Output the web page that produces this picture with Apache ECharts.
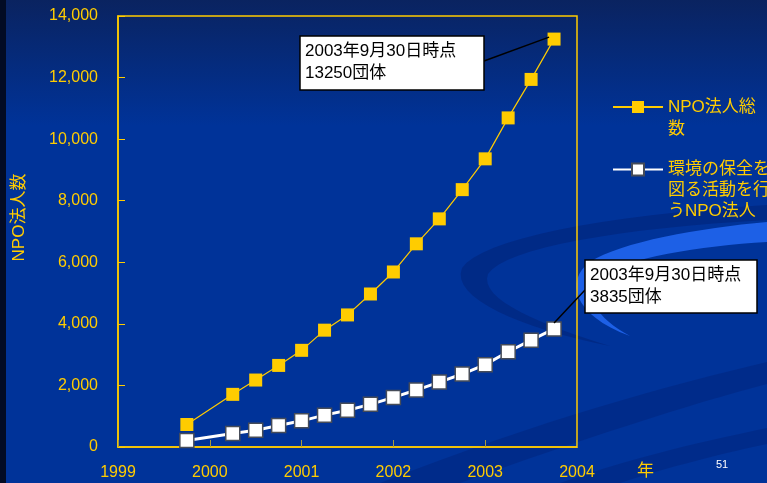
<!DOCTYPE html>
<html><head><meta charset="utf-8">
<script src="https://cdn.jsdelivr.net/npm/echarts@6/dist/echarts.min.js"></script>
<style>html,body{margin:0;padding:0;background:#003399}#c{width:767px;height:483px}</style>
</head><body><div id="c"></div>
<script>
const dates = [1999.75, 2000.25, 2000.5, 2000.75, 2001.0, 2001.25, 2001.5, 2001.75, 2002.0, 2002.25, 2002.5, 2002.75, 2003.0, 2003.25, 2003.5, 2003.75];
const totalNPO = [730, 1710, 2175, 2650, 3140, 3795, 4290, 4970, 5685, 6600, 7410, 8360, 9360, 10690, 11940, 13250];
const envNPO = [210, 440, 545, 700, 850, 1035, 1195, 1385, 1610, 1850, 2110, 2370, 2675, 3095, 3470, 3835];
const yearTicks = [1999, 2000, 2001, 2002, 2003, 2004];
const valueTicks = [0, 2000, 4000, 6000, 8000, 10000, 12000, 14000];
const seriesNames = ['NPO法人総数', '環境の保全を図る活動を行うNPO法人'];
const legendLabels = ['NPO法人総\n数', '環境の保全を\n図る活動を行\nうNPO法人'];
const callouts = ['2003年9月30日時点\n13250団体', '2003年9月30日時点\n3835団体'];
const yAxisName = 'NPO法人数';
const xAxisName = '年';
const pageNo = '51';

const FONT = '"Liberation Sans", "Noto Sans CJK JP", sans-serif';
const YEL = '#ffcc00';
const chart = echarts.init(document.getElementById('c'), null, {renderer: 'canvas'});

// sample a closed shape made of cubic bezier segments into polygon points (decoration only)
function bez(start, segs) {
  const pts = [start.slice()];
  let p0 = start;
  segs.forEach(s => {
    const [c1, c2, p3] = s;
    for (let t = 1; t <= 16; t++) {
      const u = t / 16, v = 1 - u;
      pts.push([
        v*v*v*p0[0] + 3*v*v*u*c1[0] + 3*v*u*u*c2[0] + u*u*u*p3[0],
        v*v*v*p0[1] + 3*v*v*u*c1[1] + 3*v*u*u*c2[1] + u*u*u*p3[1]
      ]);
    }
    p0 = p3;
  });
  return pts;
}

// legend text: prepend blank lines so the first text line sits level with the legend icon
function legendText(label) {
  const n = label.split('\n').length;
  return ' \n'.repeat(n - 1) + label;
}

const decor = [
  {id: 'strip', type: 'rect', z: -5, shape: {x: 0, y: 0, width: 6, height: 483}, style: {fill: '#020b24'}},
  {id: 'd1', type: 'polygon', z: -5, shape: {points: bez([767, 205], [
    [[600, 215], [480, 240], [462, 268]], [[450, 298], [520, 328], [610, 346]],
    [[545, 326], [478, 300], [488, 274]], [[505, 248], [620, 228], [767, 220]]])},
    style: {fill: 'rgba(0,25,100,0.35)'}},
  {id: 'd2', type: 'polygon', z: -5, shape: {points: bez([767, 222], [
    [[700, 228], [620, 242], [590, 262]], [[565, 280], [572, 315], [630, 336]],
    [[596, 318], [584, 296], [600, 276]], [[625, 258], [700, 246], [767, 242]]])},
    style: {fill: '#1d60e6'}},
  {id: 'd3', type: 'polygon', z: -5, shape: {points: bez([380, 483], [
    [[540, 420], [670, 385], [767, 362]], [[767, 370], [767, 378], [767, 384]],
    [[690, 404], [580, 440], [460, 483]]])},
    style: {fill: 'rgba(0,25,100,0.28)'}},
  {id: 'd4', type: 'polygon', z: -5, shape: {points: bez([560, 483], [
    [[640, 455], [710, 440], [767, 428]], [[767, 433], [767, 439], [767, 444]],
    [[710, 456], [660, 470], [620, 483]]])},
    style: {fill: 'rgba(0,25,100,0.28)'}}
];

const boxes = [
  {x: 300, y: 36, w: 184, h: 54, ax: 484, ay: 61},
  {x: 585, y: 260, w: 172, h: 53, ax: 585, ay: 290}
];

function calloutGraphics() {
  const pts = [
    chart.convertToPixel({gridIndex: 0}, [dates[dates.length - 1], totalNPO[totalNPO.length - 1]]),
    chart.convertToPixel({gridIndex: 0}, [dates[dates.length - 1], envNPO[envNPO.length - 1]])
  ];
  const out = [];
  boxes.forEach((b, i) => {
    const p = pts[i];
    const tx = i === 0 ? p[0] - 5 : p[0];
    const ty = i === 0 ? p[1] - 2 : p[1] - 6;
    out.push({id: 'ln' + i, type: 'line', z: 10, shape: {x1: b.ax, y1: b.ay, x2: tx, y2: ty}, style: {stroke: '#000', lineWidth: 1.5}});
    out.push({id: 'bx' + i, type: 'rect', z: 10, shape: {x: b.x, y: b.y, width: b.w, height: b.h}, style: {fill: '#fff', stroke: '#000', lineWidth: 1.5}});
    out.push({id: 'tx' + i, type: 'text', z: 11, style: {x: b.x + 5, y: b.y + 4, text: callouts[i], fill: '#000', fontSize: 17, fontFamily: FONT, lineHeight: 22}});
  });
  out.push({id: 'pg', type: 'text', z: 11, style: {x: 716, y: 459, text: pageNo, fill: '#ffffff', fontSize: 11, fontFamily: FONT}});
  out.push({id: 'xname', type: 'text', z: 11, style: {x: 637, y: 463, text: xAxisName, fill: YEL, fontSize: 17, fontFamily: FONT}});
  return out;
}

const option = {
  animation: false,
  backgroundColor: {type: 'linear', x: 0, y: 0, x2: 0, y2: 1, colorStops: [
    {offset: 0, color: '#0a2360'}, {offset: 0.26, color: '#003399'}, {offset: 1, color: '#003399'}]},
  textStyle: {fontFamily: FONT},
  grid: {left: 118, right: 190, top: 16, bottom: 36, show: true, borderColor: YEL, borderWidth: 1.5, backgroundColor: 'transparent'},
  xAxis: {
    type: 'value', min: yearTicks[0], max: yearTicks[yearTicks.length - 1], interval: 1,
    axisLine: {lineStyle: {color: YEL, width: 1.5}},
    axisTick: {inside: true, length: 7, lineStyle: {color: '#a89c3c'}},
    splitLine: {show: false},
    axisLabel: {color: YEL, fontSize: 16, margin: 18, fontFamily: FONT, formatter: v => String(v)}
  },
  yAxis: {
    type: 'value', min: valueTicks[0], max: valueTicks[valueTicks.length - 1], interval: 2000,
    name: yAxisName, nameLocation: 'middle', nameGap: 90, nameRotate: 90,
    nameTextStyle: {color: YEL, fontSize: 17, fontFamily: FONT, padding: [0, 0, 0, 28]},
    axisLine: {lineStyle: {color: YEL, width: 1.5}},
    axisTick: {inside: true, length: 7, lineStyle: {color: YEL}},
    splitLine: {show: false},
    axisLabel: {color: YEL, fontSize: 16, margin: 20, fontFamily: FONT}
  },
  legend: [
    {data: [seriesNames[0]], left: 612, top: 74, padding: 0,
     itemWidth: 50, itemHeight: 15, itemGap: 5, selectedMode: false,
     formatter: () => legendText(legendLabels[0]),
     textStyle: {color: YEL, fontSize: 17, lineHeight: 22, fontFamily: FONT}},
    {data: [seriesNames[1]], left: 612, top: 117, padding: 0,
     itemWidth: 50, itemHeight: 15, itemGap: 5, selectedMode: false,
     formatter: () => legendText(legendLabels[1]),
     textStyle: {color: YEL, fontSize: 17, lineHeight: 21, fontFamily: FONT}}
  ],
  series: [
    {name: seriesNames[0], type: 'line', data: dates.map((d, i) => [d, totalNPO[i]]),
     symbol: 'rect', symbolSize: 13, z: 3,
     lineStyle: {color: YEL, width: 1.2}, itemStyle: {color: YEL}},
    {name: seriesNames[1], type: 'line', data: dates.map((d, i) => [d, envNPO[i]]),
     symbol: 'rect', symbolSize: 14, z: 4,
     lineStyle: {color: '#ffffff', width: 3},
     itemStyle: {color: '#ffffff', borderColor: '#464c58', borderWidth: 1.5}}
  ],
  graphic: {elements: decor}
};
chart.setOption(option);
chart.setOption({graphic: {elements: decor.concat(calloutGraphics())}});
</script>
</body></html>
